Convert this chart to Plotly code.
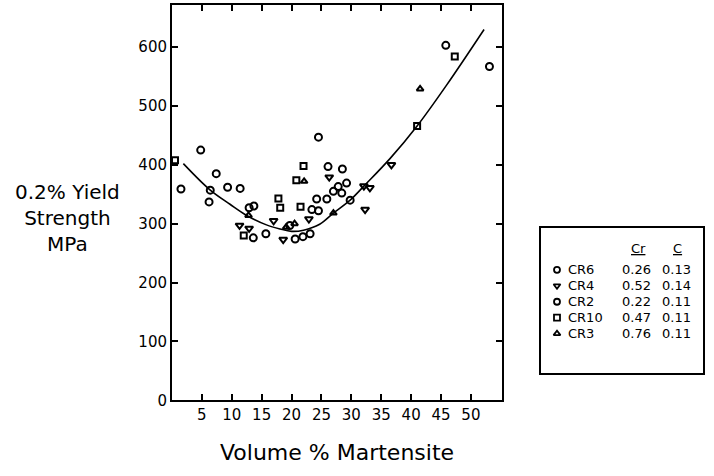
import plotly.graph_objects as go

W, H = 714, 476

# ---------------- data ----------------
cr6_x = [1.5, 4.8, 7.4, 9.3, 11.4, 12.9, 13.7, 13.6, 20.6, 21.9, 24.2, 24.5, 26.1, 27.8, 28.4, 28.5, 29.2, 45.8, 53.1]
cr6_y = [359, 425, 385, 362, 360, 327, 330, 276, 274, 278, 342, 447, 397, 363, 352, 393, 369, 603, 567]

cr4_x = [11.3, 12.9, 17.0, 18.6, 22.9, 26.3, 32.1, 33.1, 32.3, 36.7]
cr4_y = [297, 292, 305, 273, 308, 379, 364, 361, 324, 400]

cr2_x = [6.4, 6.2, 15.7, 19.7, 23.1, 23.4, 24.5, 25.9, 27.0, 29.8]
cr2_y = [357, 337, 283, 297, 283, 324, 322, 342, 355, 340]

cr10_x = [0.5, 12.0, 17.8, 18.1, 20.8, 21.5, 22.0, 41.0, 47.3]
cr10_y = [408, 280, 343, 327, 374, 329, 398, 466, 584]

cr3_x = [12.8, 19.1, 20.5, 22.1, 27.0, 41.5]
cr3_y = [314, 294, 300, 372, 318, 529]

# fitted curve, sampled along the drawn line
fit_x = [1.9, 6.4, 9.7, 12.5, 15.8, 18.1, 20.0, 22.0, 24.7, 27.0, 29.8, 32.3, 36.5, 41.0, 45.9, 52.2]
fit_y = [402, 357, 333, 314, 298, 291, 287, 289, 299, 318, 340, 366, 411, 466, 535, 630]

x_ticks = [5, 10, 15, 20, 25, 30, 35, 40, 45, 50]
y_ticks = [0, 100, 200, 300, 400, 500, 600]

legend_names = ["CR6", "CR4", "CR2", "CR10", "CR3"]
legend_cr = ["0.26", "0.52", "0.22", "0.47", "0.76"]
legend_c = ["0.13", "0.14", "0.11", "0.11", "0.11"]
legend_symbols = ["circle-open", "triangle-down-open", "circle-open", "square-open", "triangle-up-open"]

FONT = "DejaVu Sans"

def px(x):
    return x / W

def py(y):
    return 1 - y / H

fig = go.Figure()

series = [
    (cr6_x, cr6_y, "circle-open", 7),
    (cr4_x, cr4_y, "triangle-down-open", 7),
    (cr2_x, cr2_y, "circle-open", 7),
    (cr10_x, cr10_y, "square-open", 6),
    (cr3_x, cr3_y, "triangle-up-open", 6),
]
for xs, ys, sym, sz in series:
    fig.add_trace(go.Scatter(
        x=xs, y=ys, mode="markers", showlegend=False,
        marker=dict(symbol=sym, size=sz, color="black", line=dict(width=2, color="black")),
    ))

fig.add_trace(go.Scatter(
    x=fit_x, y=fit_y, mode="lines", showlegend=False,
    line=dict(color="black", width=1.6, shape="spline", smoothing=1.0),
))

# legend-table markers on a hidden helper axis
rows = list(range(len(legend_names)))
fig.add_trace(go.Scatter(
    x=[557] * len(rows), y=rows, xaxis="x2", yaxis="y2", mode="markers", showlegend=False,
    marker=dict(symbol=legend_symbols, size=6, color="black", line=dict(width=1.8, color="black")),
))

axis_common = dict(
    showline=True, linecolor="black", linewidth=2, mirror="ticks",
    ticks="inside", ticklen=6, tickwidth=1.5, tickcolor="black",
    showgrid=False, zeroline=False,
    tickfont=dict(family=FONT, size=15, color="black"),
)

fig.update_layout(
    width=W, height=H,
    margin=dict(l=0, r=0, t=0, b=0),
    paper_bgcolor="white", plot_bgcolor="white",
    xaxis=dict(domain=[px(172), px(502)], range=[0, 55.2], tickvals=x_ticks, anchor="y", **axis_common),
    yaxis=dict(domain=[py(408), py(5)], range=[0, 671.7], tickvals=y_ticks, anchor="x", **axis_common),
    xaxis2=dict(domain=[px(541), px(703)], range=[541, 703], anchor="y2",
                showline=True, mirror=True, linecolor="black", linewidth=1.5,
                showticklabels=False, ticks="", showgrid=False, zeroline=False),
    yaxis2=dict(domain=[py(380), py(232)], range=[6.46, -2.65], anchor="x2",
                showline=True, mirror=True, linecolor="black", linewidth=1.5,
                showticklabels=False, ticks="", showgrid=False, zeroline=False),
    showlegend=False,
)

ann = []
# axis titles
ann.append(dict(text="Volume % Martensite", x=px(337), y=py(461), xref="paper", yref="paper",
                showarrow=False, font=dict(family=FONT, size=22, color="black"),
                xanchor="center", yanchor="middle"))
ann.append(dict(text="0.2% Yield<br>Strength<br>MPa", x=px(67), y=py(222), xref="paper", yref="paper",
                showarrow=False, font=dict(family=FONT, size=20, color="black"),
                xanchor="center", yanchor="middle", align="center"))

# legend table header
ann.append(dict(text="<u>Cr</u>", x=638, y=-1.35, xref="x2", yref="y2", showarrow=False,
                font=dict(family=FONT, size=13, color="black"), xanchor="center", yanchor="middle"))
ann.append(dict(text="<u>C</u>", x=677, y=-1.35, xref="x2", yref="y2", showarrow=False,
                font=dict(family=FONT, size=13, color="black"), xanchor="center", yanchor="middle"))
for i, (n, cr, c) in enumerate(zip(legend_names, legend_cr, legend_c)):
    ann.append(dict(text=n, x=566, y=i, xref="x2", yref="y2", showarrow=False,
                    font=dict(family=FONT, size=13, color="black"), xanchor="left", yanchor="middle"))
    ann.append(dict(text=cr, x=636, y=i, xref="x2", yref="y2", showarrow=False,
                    font=dict(family=FONT, size=13, color="black"), xanchor="center", yanchor="middle"))
    ann.append(dict(text=c, x=676, y=i, xref="x2", yref="y2", showarrow=False,
                    font=dict(family=FONT, size=13, color="black"), xanchor="center", yanchor="middle"))

fig.update_layout(annotations=ann)

fig.write_html("out.html")
